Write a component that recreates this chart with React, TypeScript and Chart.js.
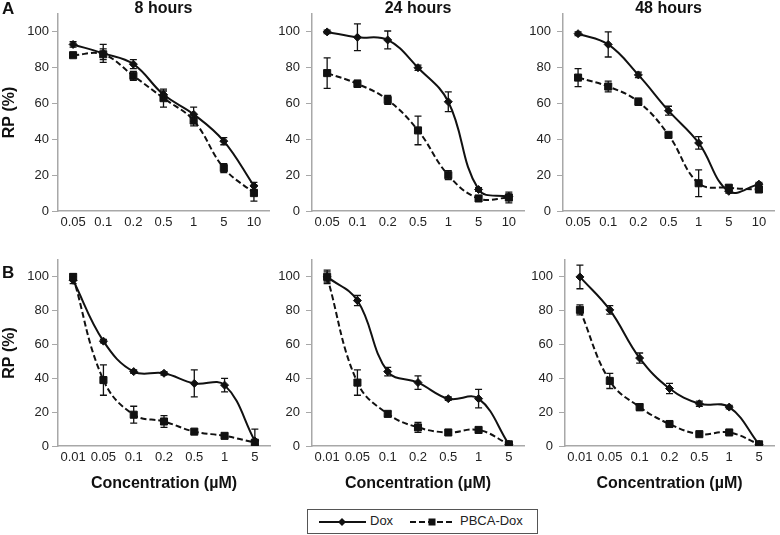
import React, { useEffect, useRef } from "react";
import { Chart, registerables } from "chart.js";

Chart.register(...registerables);

// ---------- Data ----------
const concA = ["0.05", "0.1", "0.2", "0.5", "1", "5", "10"];
const concB = ["0.01", "0.05", "0.1", "0.2", "0.5", "1", "5"];
const yTickValues = [0, 20, 40, 60, 80, 100];

// Panel A – 8 hours
const doxA8 = [93, 88, 82, 65, 54, 39, 14];
const doxA8Err = [1.5, 5, 2.5, 2, 4, 2, 2];
const pbcaA8 = [87, 87.5, 75.5, 63, 50.5, 24, 10];
const pbcaA8Err = [1.2, 3, 2.5, 5, 3, 2.5, 4.5];

// Panel A – 24 hours
const doxA24 = [100, 97, 95.5, 80, 61, 12, 8];
const doxA24Err = [1, 7.5, 5, 1.5, 5.5, 1, 1.5];
const pbcaA24 = [77, 71, 62, 45, 20, 7, 7.5];
const pbcaA24Err = [8.5, 2, 2.5, 8, 2.5, 1, 3];

// Panel A – 48 hours
const doxA48 = [99, 93, 76, 56, 38, 11, 15];
const doxA48Err = [1, 7, 1.5, 2.5, 3.5, 1, 1];
const pbcaA48 = [74.5, 69.5, 61, 42.5, 15.5, 13, 12];
const pbcaA48Err = [5, 3, 2, 1, 7.5, 1.5, 1.5];

// Panel B – left
const doxB1 = [98, 62, 44, 43, 37, 36, 3];
const doxB1Err = [2, 1, 1, 1, 8, 4, 7];
const pbcaB1 = [100, 39, 18.5, 14.5, 8.5, 6, 2];
const pbcaB1Err = [2, 9, 5, 3.5, 1, 1.5, 1];

// Panel B – middle
const doxB2 = [100, 86, 44, 37.5, 28, 28, 1];
const doxB2Err = [4, 3, 2.5, 4, 1, 5.5, 1];
const pbcaB2 = [100, 37.5, 19, 11, 8, 9.5, 1];
const pbcaB2Err = [3, 7.5, 1.5, 3, 1, 1.5, 0.5];

// Panel B – right
const doxB3 = [100, 80.5, 52, 34, 25, 23, 1];
const doxB3Err = [7, 2.5, 3, 3, 1.5, 1, 0.5];
const pbcaB3 = [80.5, 38.5, 23, 13, 7, 8, 1];
const pbcaB3Err = [3, 4.5, 2, 1, 1, 1, 0.5];

const FONT = '"Liberation Sans", Arial, Helvetica, sans-serif';
const AXIS_COLOR = "#a8a8a8";

// ---------- Plugins ----------
const errorBarPlugin = {
  id: "errorBars",
  afterDatasetsDraw(chart: any, _args: any, opts: any) {
    const { ctx, chartArea } = chart;
    const yScale = chart.scales.y;
    ctx.save();
    ctx.beginPath();
    ctx.rect(chartArea.left, chartArea.top - 2, chartArea.right - chartArea.left, chartArea.bottom - chartArea.top + 2);
    ctx.clip();
    ctx.strokeStyle = "#111";
    ctx.lineWidth = 1.3;
    chart.data.datasets.forEach((ds: any, i: number) => {
      const errs: number[] = opts.errors[i];
      const meta = chart.getDatasetMeta(i);
      meta.data.forEach((pt: any, j: number) => {
        const v = ds.data[j];
        const e = errs[j];
        const x = pt.x;
        const yT = yScale.getPixelForValue(v + e);
        const yB = yScale.getPixelForValue(v - e);
        ctx.beginPath();
        ctx.moveTo(x, yT);
        ctx.lineTo(x, yB);
        ctx.moveTo(x - 3.5, yT);
        ctx.lineTo(x + 3.5, yT);
        ctx.moveTo(x - 3.5, yB);
        ctx.lineTo(x + 3.5, yB);
        ctx.stroke();
      });
    });
    ctx.restore();
  },
};

const panelTextPlugin = {
  id: "panelText",
  afterDraw(chart: any, _args: any, opts: any) {
    const { ctx, chartArea } = chart;
    ctx.save();
    ctx.fillStyle = "#111";
    ctx.textBaseline = "top";
    if (opts.title) {
      ctx.font = `bold 16px ${FONT}`;
      ctx.textAlign = "center";
      ctx.fillText(opts.title, (chartArea.left + chartArea.right) / 2, opts.titleY);
    }
    if (opts.letter) {
      ctx.font = `bold 17px ${FONT}`;
      ctx.textAlign = "left";
      ctx.fillText(opts.letter, 2, opts.letterY);
    }
    ctx.restore();
  },
};

// ---------- Panel specs ----------
type Spec = {
  x: number; y: number; w: number; h: number;
  yw: number; padTop: number; xh: number; yPad: number;
  labels: string[];
  dox: number[]; doxErr: number[]; pbca: number[]; pbcaErr: number[];
  title?: string; letter?: string; letterY?: number;
  yTitle: boolean; xTitle: boolean;
};

const panels: Spec[] = [
  { x: 0, y: 0, w: 275, h: 240, yw: 58, padTop: 14, xh: 29, yPad: 3, labels: concA, dox: doxA8, doxErr: doxA8Err, pbca: pbcaA8, pbcaErr: pbcaA8Err, title: "8 hours", letter: "A", letterY: 1, yTitle: true, xTitle: false },
  { x: 262, y: 0, w: 268, h: 240, yw: 50, padTop: 14, xh: 29, yPad: 6, labels: concA, dox: doxA24, doxErr: doxA24Err, pbca: pbcaA24, pbcaErr: pbcaA24Err, title: "24 hours", yTitle: false, xTitle: false },
  { x: 513, y: 0, w: 267, h: 240, yw: 50, padTop: 14, xh: 29, yPad: 6, labels: concA, dox: doxA48, doxErr: doxA48Err, pbca: pbcaA48, pbcaErr: pbcaA48Err, title: "48 hours", yTitle: false, xTitle: false },
  { x: 0, y: 230, w: 276, h: 265, yw: 58, padTop: 30, xh: 49, yPad: 3, labels: concB, dox: doxB1, doxErr: doxB1Err, pbca: pbcaB1, pbcaErr: pbcaB1Err, letter: "B", letterY: 35, yTitle: true, xTitle: true },
  { x: 262, y: 230, w: 268, h: 265, yw: 50, padTop: 30, xh: 49, yPad: 6, labels: concB, dox: doxB2, doxErr: doxB2Err, pbca: pbcaB2, pbcaErr: pbcaB2Err, yTitle: false, xTitle: true },
  { x: 515, y: 230, w: 265, h: 265, yw: 50, padTop: 30, xh: 49, yPad: 6, labels: concB, dox: doxB3, doxErr: doxB3Err, pbca: pbcaB3, pbcaErr: pbcaB3Err, yTitle: false, xTitle: true },
];

function Panel({ spec }: { spec: Spec }) {
  const ref = useRef<HTMLCanvasElement>(null);
  useEffect(() => {
    const chart = new Chart(ref.current as HTMLCanvasElement, {
      type: "line",
      data: {
        labels: spec.labels,
        datasets: [
          {
            label: "Dox",
            data: spec.dox,
            borderColor: "#111",
            backgroundColor: "#111",
            borderWidth: 2,
            tension: 0.4,
            pointStyle: "rectRot",
            pointRadius: 4,
            pointBorderWidth: 1,
            pointBackgroundColor: "#111",
            pointBorderColor: "#111",
          },
          {
            label: "PBCA-Dox",
            data: spec.pbca,
            borderColor: "#111",
            backgroundColor: "#111",
            borderWidth: 2,
            borderDash: [6, 3],
            tension: 0.4,
            pointStyle: "rect",
            pointRadius: 5,
            pointBorderWidth: 1,
            pointBackgroundColor: "#111",
            pointBorderColor: "#111",
          },
        ],
      },
      options: {
        animation: false,
        responsive: false,
        layout: { padding: { top: spec.padTop, right: 3, left: 0, bottom: 0 } },
        plugins: {
          legend: { display: false },
          tooltip: { enabled: false },
          title: { display: false },
          errorBars: { errors: [spec.doxErr, spec.pbcaErr] },
          panelText: { title: spec.title, letter: spec.letter, titleY: 1, letterY: spec.letterY ?? 0 },
        } as any,
        scales: {
          x: {
            type: "category",
            offset: true,
            grid: { display: false, drawTicks: false, tickLength: 0 },
            border: { display: true, color: AXIS_COLOR, width: 1.5 },
            ticks: { color: "#222", font: { family: FONT, size: 13 }, padding: 4, maxRotation: 0, autoSkip: false },
            title: {
              display: spec.xTitle,
              text: "Concentration (µM)",
              color: "#111",
              font: { family: FONT, size: 16, weight: "bold" },
              padding: { top: 0, bottom: 2 },
            },
            afterFit: (scale: any) => { scale.height = spec.xh; },
          },
          y: {
            min: 0,
            max: 110,
            afterBuildTicks: (scale: any) => { scale.ticks = yTickValues.map((v) => ({ value: v })); },
            grid: { display: true, drawOnChartArea: false, drawTicks: true, tickLength: 6, color: AXIS_COLOR, lineWidth: 1 },
            border: { display: true, color: AXIS_COLOR, width: 1.5 },
            ticks: { color: "#222", font: { family: FONT, size: 13 }, padding: spec.yPad },
            title: {
              display: spec.yTitle,
              text: "RP (%)",
              color: "#111",
              font: { family: FONT, size: 16, weight: "bold" },
              padding: 0,
            },
            afterFit: (scale: any) => { scale.width = spec.yw; },
          },
        },
      } as any,
      plugins: [errorBarPlugin, panelTextPlugin],
    });
    return () => chart.destroy();
  }, []);
  return (
    <canvas
      ref={ref}
      width={spec.w}
      height={spec.h}
      style={{ position: "absolute", left: spec.x, top: spec.y, width: spec.w, height: spec.h }}
    />
  );
}

function Legend() {
  return (
    <div
      style={{
        position: "absolute",
        left: 307,
        top: 509,
        width: 229,
        height: 23,
        border: "1px solid #555",
        background: "#fff",
        fontFamily: FONT,
        fontSize: 13,
        color: "#222",
      }}
    >
      <svg width={229} height={23} style={{ position: "absolute", left: 0, top: 0 }}>
        <line x1={11} y1={12} x2={58} y2={12} stroke="#111" strokeWidth={2} />
        <polygon points="34,8 38,12 34,16 30,12" fill="#111" />
        <line x1={102} y1={12} x2={146} y2={12} stroke="#111" strokeWidth={2} strokeDasharray="6 3" />
        <rect x={120.5} y={8.5} width={7} height={7} fill="#111" />
      </svg>
      <span style={{ position: "absolute", left: 62, top: 3, lineHeight: "16px" }}>Dox</span>
      <span style={{ position: "absolute", left: 152, top: 3, lineHeight: "16px" }}>PBCA-Dox</span>
    </div>
  );
}

export default function App() {
  return (
    <div style={{ position: "absolute", left: 0, top: 0, width: 780, height: 535, background: "#fff", overflow: "hidden" }}>
      {panels.map((p, i) => (
        <Panel key={i} spec={p} />
      ))}
      <Legend />
    </div>
  );
}
